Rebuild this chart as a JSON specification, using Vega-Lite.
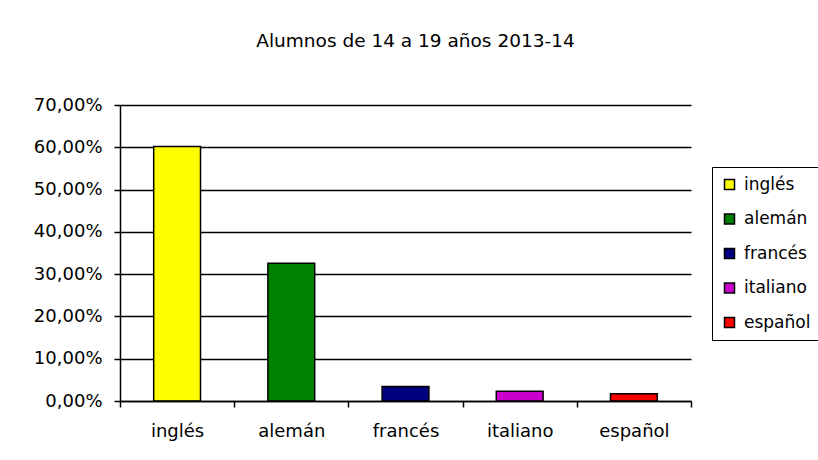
{
  "$schema": "https://vega.github.io/schema/vega-lite/v6.json",
  "width": 571,
  "height": 296,
  "autosize": {"type": "none"},
  "padding": {"left": 120, "top": 105, "right": 127, "bottom": 59},
  "background": "white",
  "title": {"text": "Alumnos de 14 a 19 años 2013-14", "font": "DejaVu Sans", "fontSize": 18.5, "fontWeight": "normal", "color": "black", "anchor": "middle", "offset": 46, "dx": 10},
  "data": {"values": [
    {"idioma": "inglés", "pct": 0.602},
    {"idioma": "alemán", "pct": 0.326},
    {"idioma": "francés", "pct": 0.034},
    {"idioma": "italiano", "pct": 0.023},
    {"idioma": "español", "pct": 0.017}
  ]},
  "mark": {"type": "bar", "stroke": "black", "strokeWidth": 1.5, "width": {"band": 0.41}},
  "encoding": {
    "x": {"field": "idioma", "type": "nominal", "sort": null,
      "scale": {"paddingInner": 0, "paddingOuter": 0},
      "axis": {"title": null, "labelAngle": 0, "tickBand": "extent", "tickSize": 6, "tickWidth": 1.5, "tickColor": "black", "domainColor": "black", "domainWidth": 1.5, "labelPadding": 15, "labelFont": "DejaVu Sans", "labelFontSize": 18, "labelColor": "black", "grid": false, "zindex": 1}},
    "y": {"field": "pct", "type": "quantitative",
      "scale": {"domain": [0, 0.7], "nice": false},
      "axis": {"title": null, "format": ".2%", "values": [0, 0.1, 0.2, 0.3, 0.4, 0.5, 0.6, 0.7], "tickSize": 6, "tickWidth": 1.5, "tickColor": "black", "domainColor": "black", "domainWidth": 1.5, "gridColor": "black", "gridWidth": 1.5, "gridOpacity": 1, "labelPadding": 12, "labelFont": "DejaVu Sans", "labelFontSize": 18, "labelColor": "black"}},
    "color": {"field": "idioma", "type": "nominal", "sort": null,
      "scale": {"domain": ["inglés", "alemán", "francés", "italiano", "español"], "range": ["#FFFF00", "#008000", "#000080", "#CC00CC", "#FF0000"]},
      "legend": {"title": null, "orient": "none", "legendX": 592, "legendY": 62, "strokeColor": "black", "fillColor": "white", "padding": 9, "symbolType": "square", "symbolSize": 100, "symbolStrokeColor": "black", "symbolStrokeWidth": 1.5, "symbolOpacity": 1, "labelFont": "DejaVu Sans", "labelFontSize": 17, "labelColor": "black", "rowPadding": 16.5, "labelOffset": 6}}
  },
  "config": {
    "view": {"stroke": null},
    "locale": {"number": {"decimal": ",", "thousands": ".", "grouping": [3], "currency": ["", " €"]}}
  }
}
